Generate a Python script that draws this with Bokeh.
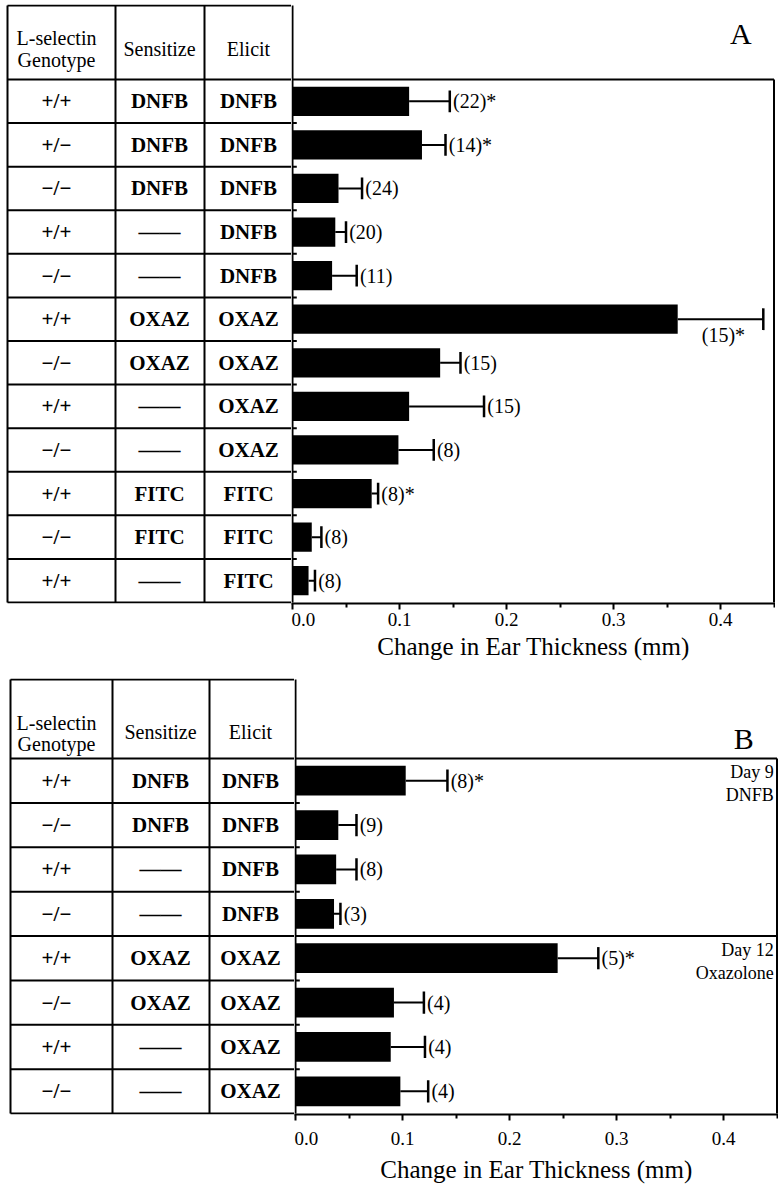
from bokeh.plotting import figure
from bokeh.models import Range1d, FixedTicker, PrintfTickFormatter
from bokeh.layouts import column, row
from bokeh.embed import file_html
from bokeh.resources import INLINE
from bokeh.core.properties import value

# ---------------- data ----------------
a_genotype = ["+/+", "+/−", "−/−", "+/+", "−/−", "+/+", "−/−", "+/+", "−/−", "+/+", "−/−", "+/+"]
a_sensitize = ["DNFB", "DNFB", "DNFB", "——", "——", "OXAZ", "OXAZ", "——", "——", "FITC", "FITC", "——"]
a_elicit = ["DNFB", "DNFB", "DNFB", "DNFB", "DNFB", "OXAZ", "OXAZ", "OXAZ", "OXAZ", "FITC", "FITC", "FITC"]
a_mean = [0.109, 0.121, 0.043, 0.040, 0.037, 0.360, 0.138, 0.109, 0.099, 0.074, 0.018, 0.015]
a_err = [0.038, 0.022, 0.022, 0.010, 0.023, 0.080, 0.019, 0.070, 0.033, 0.006, 0.009, 0.006]
a_n = ["(22)*", "(14)*", "(24)", "(20)", "(11)", "(15)*", "(15)", "(15)", "(8)", "(8)*", "(8)", "(8)"]

b_genotype = ["+/+", "−/−", "+/+", "−/−", "+/+", "−/−", "+/+", "−/−"]
b_sensitize = ["DNFB", "DNFB", "——", "——", "OXAZ", "OXAZ", "——", "——"]
b_elicit = ["DNFB", "DNFB", "DNFB", "DNFB", "OXAZ", "OXAZ", "OXAZ", "OXAZ"]
b_mean = [0.103, 0.040, 0.038, 0.036, 0.245, 0.092, 0.089, 0.098]
b_err = [0.039, 0.017, 0.019, 0.006, 0.038, 0.028, 0.032, 0.026]
b_n = ["(8)*", "(9)", "(8)", "(3)", "(5)*", "(4)", "(4)", "(4)"]
b_groups = [["Day 9", "DNFB"], ["Day 12", "Oxazolone"]]
b_group_rows = [0, 4]

headers = ["L-selectin\nGenotype", "Sensitize", "Elicit"]
x_ticks = [0.0, 0.1, 0.2, 0.3, 0.4]
x_minor = [0.05, 0.15, 0.25, 0.35, 0.45]
x_title = "Change in Ear Thickness (mm)"

FONT = value("Liberation Serif")
K = 1070.0          # px per data unit
XMAX = 0.45


def build_panel(letter, genotype, sensitize, elicit, mean, err, nlab,
                top_border, frame_top, table_top, header_bot, table_bot,
                table_left, col_lines, col_centers, zero_px, header_ys,
                bottom, label_standoff, title_standoff,
                groups=None, group_rows=None):
    nrows = len(mean)
    rh = (table_bot - header_bot) / nrows
    frame_bot = table_bot + 1
    ys = -1.0 / rh
    ye = nrows + (header_bot - frame_top) / rh
    y_tab_top = nrows + (header_bot - table_top) / rh
    fh = frame_bot - frame_top
    height = top_border + fh + bottom

    def py(p):  # page pixel -> data y
        return nrows + (header_bot - p) / rh

    yc = [nrows - i - 0.5 for i in range(nrows)]

    # ---------- table figure ----------
    tw = zero_px - 1
    t = figure(width=tw, height=height, x_range=Range1d(0, zero_px - 1),
               y_range=Range1d(ys, ye), output_backend="svg", toolbar_location=None,
               x_axis_location=None, y_axis_location=None,
               min_border_left=0, min_border_right=0, min_border_top=top_border,
               min_border_bottom=bottom, outline_line_color=None)
    t.grid.visible = False
    xl = table_left
    xr = zero_px - 1
    hx0, hx1, hy = [], [], []
    for yy in [y_tab_top, nrows] + list(range(0, nrows)):
        hx0.append(xl); hx1.append(xr); hy.append(yy)
    t.segment(x0=hx0, x1=hx1, y0=hy, y1=hy, line_color="black", line_width=2)
    vx = [xl] + col_lines
    t.segment(x0=vx, x1=vx, y0=[0] * len(vx), y1=[y_tab_top] * len(vx),
              line_color="black", line_width=2)
    gy = header_ys
    t.text(x=[col_centers[0], col_centers[0]], y=[py(gy[0]), py(gy[1])],
           text=headers[0].split("\n"), text_align="center", text_baseline="middle",
           text_font=FONT, text_font_size="20px", text_color="black")
    t.text(x=col_centers[1:], y=[py(gy[2]), py(gy[2])], text=headers[1:],
           text_align="center", text_baseline="middle",
           text_font=FONT, text_font_size="20px", text_color="black")
    for ci, col in enumerate([genotype, sensitize, elicit]):
        t.text(x=[col_centers[ci]] * nrows, y=yc, text=col, text_align="center",
               text_baseline="middle", text_font=FONT, text_font_size="21px",
               text_font_style="bold", text_color="black")

    # ---------- plot figure ----------
    pw = 484
    x0 = -1.0 / K
    x1 = x0 + pw / K
    p = figure(width=pw, height=height, x_range=Range1d(x0, x1),
               y_range=Range1d(ys, ye), output_backend="svg", toolbar_location=None,
               y_axis_location=None, min_border_left=0, min_border_right=0,
               min_border_top=top_border, min_border_bottom=bottom,
               outline_line_color=None)
    p.grid.visible = False
    p.segment(x0=[0, XMAX, 0], x1=[0, XMAX, XMAX], y0=[0, 0, nrows],
              y1=[y_tab_top, nrows, nrows], line_color="black", line_width=2)
    p.segment(x0=[0] * (nrows - 1), x1=[0.004] * (nrows - 1), y0=list(range(1, nrows)),
              y1=list(range(1, nrows)), line_color="black", line_width=2)
    p.hbar(y=yc, left=0, right=mean, height=0.67, fill_color="black", line_color=None)
    hi = [m + e for m, e in zip(mean, err)]
    p.segment(x0=mean, x1=hi, y0=yc, y1=yc, line_color="black", line_width=2)
    p.segment(x0=hi, x1=hi, y0=[y - 0.25 for y in yc], y1=[y + 0.25 for y in yc],
              line_color="black", line_width=2.5)
    lx, ly, lt, rx, ry, rt = [], [], [], [], [], []
    for h, y, s in zip(hi, yc, nlab):
        if h > 0.4:
            rx.append(h - 0.017); ry.append(y - 0.36); rt.append(s)
        else:
            lx.append(h + 0.003); ly.append(y); lt.append(s)
    p.text(x=lx, y=ly, text=lt, text_align="left", text_baseline="middle",
           text_font=FONT, text_font_size="20px", text_color="black")
    if rt:
        p.text(x=rx, y=ry, text=rt, text_align="right", text_baseline="middle",
               text_font=FONT, text_font_size="20px", text_color="black")
    p.text(x=[0.419], y=[py(letter[1])], text=[letter[0]], text_align="center",
           text_baseline="middle", text_font=FONT, text_font_size="30px", text_color="black")
    if groups:
        gx, gyy, gt = [], [], []
        for g, r in zip(groups, group_rows):
            gx += [0.447, 0.447]
            gyy += [yc[r] + 0.19, yc[r] - 0.33]
            gt += g
        p.text(x=gx, y=gyy, text=gt, text_align="right", text_baseline="middle",
               text_font=FONT, text_font_size="18px", text_color="black")
        for r in group_rows[1:]:
            p.segment(x0=[0], x1=[XMAX], y0=[nrows - r], y1=[nrows - r],
                      line_color="black", line_width=2)
    ax = p.xaxis[0]
    ax.ticker = FixedTicker(ticks=x_ticks, minor_ticks=x_minor)
    ax.formatter = PrintfTickFormatter(format="%.1f")
    ax.axis_line_width = 2
    ax.major_tick_line_width = 2
    ax.minor_tick_line_width = 2
    ax.major_tick_in = 0
    ax.major_tick_out = 6
    ax.minor_tick_in = 0
    ax.minor_tick_out = 4
    ax.major_label_standoff = label_standoff
    ax.major_label_text_font = "Liberation Serif"
    ax.major_label_text_font_size = "19px"
    ax.major_label_text_color = "black"
    ax.axis_label = x_title
    ax.axis_label_standoff = title_standoff
    ax.axis_label_text_font = "Liberation Serif"
    ax.axis_label_text_font_size = "25px"
    ax.axis_label_text_font_style = "normal"
    ax.axis_label_text_color = "black"
    return row(t, p), height


panel_a, h_a = build_panel(("A", 33), a_genotype, a_sensitize, a_elicit, a_mean, a_err, a_n,
                           top_border=4, frame_top=4, table_top=5, header_bot=79, table_bot=602,
                           table_left=7, col_lines=[115, 204], col_centers=[56, 159, 248],
                           zero_px=292, header_ys=[37, 59, 48],
                           bottom=70, label_standoff=3, title_standoff=4)
panel_b, h_b = build_panel(("B", 738), b_genotype, b_sensitize, b_elicit, b_mean, b_err, b_n,
                           top_border=5, frame_top=678, table_top=679, header_bot=758,
                           table_bot=1113, table_left=10, col_lines=[112, 209],
                           col_centers=[56, 160, 250], zero_px=295, header_ys=[722, 743, 731],
                           bottom=80, label_standoff=11, title_standoff=8,
                           groups=b_groups, group_rows=b_group_rows)

layout = column(panel_a, panel_b)
open("out.html", "w").write(file_html(layout, INLINE))
